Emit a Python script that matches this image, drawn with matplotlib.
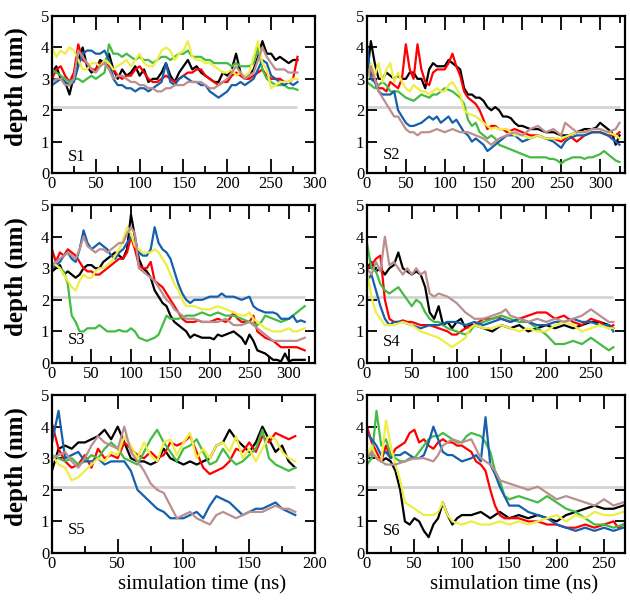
import matplotlib
matplotlib.use('Agg')
import matplotlib.pyplot as plt
from matplotlib.ticker import MultipleLocator
import numpy as np

plt.rcParams['font.family'] = ['Liberation Serif', 'DejaVu Serif']

step = 5  # ns between samples
threshold = 2.1

# ---- S1 ----
s1_black = [3.2, 3.4, 3.0, 2.9, 2.5, 3.1, 3.6, 4.0, 3.4, 3.2, 3.3, 3.6, 3.5, 3.8, 3.3, 3.0, 3.3, 3.1, 3.2, 3.4,
            3.1, 3.3, 2.9, 3.0, 3.0, 3.2, 3.5, 3.1, 2.9, 3.2, 3.4, 3.6, 3.3, 3.4, 3.2, 3.1, 3.0, 2.9, 2.9, 3.2,
            3.1, 3.3, 3.8, 3.2, 3.0, 3.1, 3.3, 3.7, 4.2, 3.8, 3.8, 3.6, 3.7, 3.6, 3.5, 3.6, 3.6]
s1_red = [3.0, 3.3, 3.4, 3.1, 2.9, 3.2, 4.1, 3.6, 3.5, 3.3, 3.3, 3.5, 3.5, 3.4, 3.3, 3.1, 3.0, 3.1, 3.1, 3.3,
          3.4, 3.2, 3.0, 2.9, 2.9, 3.0, 3.1, 3.0, 2.9, 3.0, 3.1, 3.2, 3.2, 3.3, 3.3, 3.1, 3.0, 2.9, 2.8, 2.9,
          2.9, 3.1, 3.2, 3.1, 3.0, 3.0, 3.1, 3.2, 3.3, 3.1, 3.0, 3.0, 3.0, 2.9, 2.9, 3.0, 3.7]
s1_green = [3.3, 3.2, 3.1, 3.0, 2.9, 3.0, 3.0, 2.9, 3.0, 3.1, 3.0, 3.1, 3.2, 4.1, 3.8, 3.8, 3.7, 3.8, 3.7, 3.6,
            3.7, 3.6, 3.6, 3.5, 3.6, 3.7, 3.7, 3.6, 3.7, 3.8, 3.8, 3.9, 3.7, 3.7, 3.7, 3.6, 3.6, 3.5, 3.5, 3.5,
            3.5, 3.4, 3.5, 3.4, 3.4, 3.4, 3.5, 4.0, 3.3, 3.0, 2.9, 2.8, 2.8, 2.8, 2.7, 2.7, 2.65]
s1_blue = [2.8, 2.9, 3.0, 2.9, 2.8, 2.9, 3.4, 3.8, 3.9, 3.9, 3.8, 3.8, 3.9, 3.6, 3.0, 2.8, 2.8, 2.7, 2.7, 2.6,
           2.7, 2.7, 2.6, 2.7, 2.8, 2.9, 3.5, 2.9, 2.8, 3.0, 3.1, 3.0, 2.9, 2.9, 2.8, 2.8, 2.6, 2.5, 2.4, 2.5,
           2.6, 2.8, 2.8, 2.9, 2.8, 2.9, 3.0, 3.3, 3.6, 3.5, 3.1, 3.0, 2.9, 2.8, 2.9, 2.8, 2.9]
s1_yellow = [4.0, 3.7, 3.9, 3.8, 4.0, 3.9, 3.6, 3.3, 3.3, 3.5, 3.5, 3.4, 3.6, 3.5, 3.3, 3.4, 3.5, 3.6, 3.4, 3.6,
             3.8, 3.5, 3.4, 3.4, 3.6, 3.9, 4.0, 3.9, 3.6, 3.8, 3.9, 4.2, 3.7, 3.6, 3.6, 3.5, 3.5, 3.4, 3.3, 3.2,
             3.2, 3.3, 3.1, 3.2, 3.1, 3.2, 3.7, 4.2, 3.5, 3.3, 2.7, 2.8, 2.9, 2.9, 2.9, 3.0, 3.0]
s1_brown = [2.9, 3.0, 3.0, 2.8, 2.8, 3.0, 3.9, 3.7, 3.5, 3.3, 3.2, 3.4, 3.5, 3.3, 3.0, 3.1, 3.1, 3.0, 2.9, 2.9,
            2.8, 2.8, 2.7, 2.7, 2.6, 2.6, 2.7, 2.7, 2.8, 2.8, 2.8, 2.9, 2.9, 2.9, 2.9, 2.8, 2.7, 2.7, 2.8, 2.9,
            3.0, 3.2, 3.4, 3.2, 3.0, 3.1, 3.2, 3.6, 4.0, 3.7, 3.5, 3.3, 3.3, 3.3, 3.2, 3.2, 3.2]

# ---- S2 ----
s2_black = [3.1, 4.2, 3.5, 3.0, 3.0, 3.2, 3.1, 3.0, 3.1, 3.0, 3.0, 3.2, 3.2, 3.0, 3.0, 2.7, 3.3, 3.5, 3.4, 3.4,
            3.4, 3.6, 3.5, 3.4, 3.3, 2.7, 2.5, 2.5, 2.4, 2.4, 2.3, 2.1, 2.0, 2.1, 2.0, 1.8, 1.8, 1.75, 1.6, 1.5,
            1.5, 1.45, 1.4, 1.4, 1.4, 1.35, 1.3, 1.3, 1.3, 1.25, 1.2, 1.2, 1.2, 1.25, 1.3, 1.35, 1.4, 1.4, 1.4, 1.45,
            1.6, 1.5, 1.4, 1.3, 0.9, 1.2]
s2_red = [3.1, 3.2, 3.0, 2.7, 2.7, 2.6, 2.9, 2.8, 2.7, 3.0, 4.1, 3.3, 3.0, 4.1, 3.3, 2.9, 2.8, 3.2, 3.3, 3.3,
          3.3, 3.5, 3.8, 3.4, 3.1, 2.6, 2.4, 2.3, 2.2, 2.0, 1.7, 1.4, 1.5, 1.5, 1.4, 1.4, 1.3, 1.35, 1.4, 1.35,
          1.3, 1.25, 1.2, 1.2, 1.2, 1.15, 1.1, 1.1, 1.1, 1.05, 1.0, 1.1, 1.2, 1.1, 1.0, 1.1, 1.2, 1.25, 1.3, 1.3,
          1.3, 1.25, 1.2, 1.2, 1.2, 1.3]
s2_green = [2.9, 2.8, 2.7, 2.8, 2.9, 2.8, 2.6, 2.6, 2.6, 2.5, 2.4, 2.35, 2.3, 2.4, 2.5, 2.45, 2.4, 2.5, 2.5, 2.6,
            2.7, 2.65, 2.6, 2.5, 2.4, 2.2, 1.7, 1.5, 1.6, 1.3, 1.2, 1.1, 1.2, 1.1, 0.9, 0.85, 0.8, 0.75, 0.7, 0.65,
            0.6, 0.55, 0.5, 0.5, 0.5, 0.5, 0.5, 0.45, 0.45, 0.4, 0.3, 0.4, 0.45, 0.5, 0.5, 0.5, 0.45, 0.5, 0.5, 0.55,
            0.6, 0.7, 0.6, 0.5, 0.4, 0.35]
s2_blue = [4.1, 3.0, 2.9, 2.6, 2.5, 2.5, 2.5, 2.6, 2.0, 1.8, 1.6, 1.5, 1.5, 1.55, 1.6, 1.7, 1.8, 1.7, 1.8, 1.6,
           1.7, 1.8, 1.6, 1.7, 1.5, 1.3, 1.2, 1.0, 1.1, 1.0, 0.9, 0.7, 0.8, 0.9, 1.0, 1.1, 1.2, 1.2, 1.2, 1.1,
           1.0, 1.05, 1.1, 1.15, 1.2, 1.15, 1.1, 1.05, 1.0, 0.9, 0.8, 1.0, 1.1, 1.15, 1.2, 1.2, 1.2, 1.25, 1.3, 1.3,
           1.3, 1.25, 1.2, 1.1, 1.0, 0.9]
s2_yellow = [2.9, 3.5, 3.1, 3.5, 2.9, 3.3, 3.5, 2.9, 3.2, 2.9, 2.7, 2.6, 2.8, 2.7, 2.6, 2.6, 2.5, 2.6, 2.7, 2.6,
             2.6, 2.8, 2.9, 2.7, 2.5, 2.0, 1.9, 1.85, 1.8, 1.7, 1.6, 1.5, 1.4, 1.45, 1.4, 1.4, 1.4, 1.3, 1.2, 1.2,
             1.2, 1.15, 1.1, 1.15, 1.2, 1.15, 1.1, 1.1, 1.1, 1.1, 1.1, 1.15, 1.2, 1.25, 1.3, 1.3, 1.3, 1.35, 1.4, 1.4,
             1.4, 1.35, 1.3, 1.25, 1.2, 1.1]
s2_brown = [3.1, 3.4, 3.0, 2.6, 2.4, 2.2, 2.0, 1.8, 1.8, 1.6, 1.4, 1.3, 1.3, 1.2, 1.3, 1.3, 1.3, 1.35, 1.4, 1.35,
            1.3, 1.35, 1.4, 1.35, 1.3, 1.3, 1.3, 1.25, 1.2, 1.15, 1.1, 1.0, 0.9, 1.0, 1.1, 1.15, 1.2, 1.25, 1.3, 1.25,
            1.2, 1.3, 1.4, 1.45, 1.5, 1.4, 1.3, 1.35, 1.4, 1.3, 1.2, 1.6, 1.5, 1.4, 1.3, 1.3, 1.3, 1.35, 1.4, 1.4,
            1.4, 1.35, 1.3, 1.35, 1.4, 1.6]

# ---- S3 ----
s3_black = [2.9, 3.0, 3.1, 2.8, 2.9, 2.8, 2.7, 2.8, 3.0, 3.1, 3.1, 3.0, 3.0, 3.2, 3.3, 3.4, 3.5, 3.4, 3.3, 3.6,
            4.7, 4.0, 3.3, 3.0, 2.9, 2.7, 2.3, 2.1, 1.9, 1.8, 1.5, 1.3, 1.2, 1.1, 1.0, 0.8, 0.9, 0.85, 0.8, 0.8,
            0.8, 0.75, 0.9, 0.85, 0.9, 0.95, 1.0, 0.9, 0.8, 0.6, 0.9, 0.7, 0.4, 0.35, 0.3, 0.2, 0.1, 0.1, 0.05, 0.3,
            0.05, 0.1, 0.1, 0.1, 0.1]
s3_red = [3.6, 3.2, 3.5, 3.4, 3.6, 3.5, 3.4, 3.2, 3.0, 2.9, 2.9, 2.8, 2.8, 2.9, 3.0, 3.1, 3.2, 3.3, 3.3, 3.5,
          4.0, 3.6, 3.1, 3.0, 3.0, 3.2, 2.6, 2.5, 2.4, 2.2, 2.0, 1.8, 1.6, 1.4, 1.3, 1.3, 1.3, 1.35, 1.3, 1.3,
          1.3, 1.35, 1.4, 1.35, 1.3, 1.4, 1.6, 1.4, 1.3, 1.3, 1.3, 1.5, 1.0, 0.9, 0.8, 0.75, 0.7, 0.6, 0.5, 0.5,
          0.5, 0.5, 0.5, 0.45, 0.4]
s3_green = [3.0, 3.1, 3.0, 2.9, 2.5, 1.5, 1.3, 1.0, 1.0, 1.1, 1.1, 1.1, 1.2, 1.1, 1.0, 1.0, 1.0, 1.05, 1.0, 1.0,
            1.1, 1.0, 0.8, 0.75, 0.7, 0.75, 0.8, 0.9, 1.2, 1.5, 1.4, 1.4, 1.4, 1.45, 1.5, 1.5, 1.5, 1.55, 1.6, 1.55,
            1.5, 1.55, 1.6, 1.55, 1.5, 1.5, 1.5, 1.45, 1.4, 1.35, 1.3, 1.25, 1.2, 1.3, 1.5, 1.45, 1.4, 1.35, 1.3, 1.35,
            1.4, 1.5, 1.6, 1.7, 1.8]
s3_blue = [3.0, 3.1, 3.2, 3.4, 3.5, 3.3, 3.2, 3.6, 4.2, 3.8, 3.6, 3.7, 3.8, 3.7, 3.6, 3.4, 3.3, 3.5, 3.6, 3.8,
           4.0, 3.8, 3.5, 3.4, 3.4, 3.6, 4.3, 3.8, 3.6, 3.5, 3.3, 2.9, 2.5, 2.2, 2.0, 1.9, 2.0, 2.0, 2.0, 2.05,
           2.1, 2.1, 2.1, 2.2, 2.1, 2.1, 2.1, 2.05, 2.0, 2.05, 2.1, 1.8, 1.7, 1.65, 1.6, 1.6, 1.6, 1.55, 1.4, 1.4,
           1.4, 1.5, 1.3, 1.35, 1.3]
s3_yellow = [3.2, 3.1, 3.0, 2.8, 2.6, 2.4, 2.3, 2.6, 2.8, 2.7, 2.7, 2.9, 3.0, 3.0, 3.1, 3.2, 3.4, 3.6, 3.9, 4.3,
             4.1, 3.7, 3.6, 3.5, 3.5, 3.5, 3.6, 3.5, 3.3, 3.1, 2.8, 2.5, 2.3, 2.0, 1.8, 1.8, 1.8, 1.75, 1.7, 1.7,
             1.7, 1.75, 1.8, 1.75, 1.7, 1.65, 1.6, 1.55, 1.5, 1.5, 1.6, 1.4, 1.3, 1.2, 1.1, 1.05, 1.0, 1.0, 1.0, 1.05,
             1.1, 1.0, 1.0, 1.05, 1.1]
s3_brown = [3.1, 3.2, 3.3, 3.4, 3.5, 3.4, 3.3, 3.6, 4.0, 3.7, 3.6, 3.5, 3.6, 3.6, 3.5, 3.6, 3.7, 3.8, 3.8, 4.1,
            4.3, 4.1, 3.0, 2.9, 2.8, 2.7, 2.6, 2.4, 2.2, 2.0, 1.9, 1.7, 1.6, 1.5, 1.4, 1.4, 1.4, 1.35, 1.3, 1.3,
            1.3, 1.3, 1.3, 1.35, 1.4, 1.3, 1.2, 1.2, 1.2, 1.25, 1.3, 1.2, 1.1, 1.0, 0.9, 0.8, 0.7, 0.7, 0.7, 0.7,
            0.7, 0.7, 0.7, 0.75, 0.8]

# ---- S4 ----
s4_black = [3.0, 3.2, 2.9, 3.0, 2.8, 3.0, 3.1, 3.5, 3.0, 2.9, 2.8, 2.9, 2.8, 2.4, 1.6, 1.4, 1.8, 1.2, 1.3, 1.1,
            1.3, 1.4, 1.1, 1.2, 1.2, 1.15, 1.1, 1.05, 1.0, 1.1, 1.2, 1.15, 1.1, 1.15, 1.2, 1.1, 1.0, 1.05, 1.1, 1.15,
            1.2, 1.15, 1.1, 1.15, 1.2, 1.15, 1.1, 1.15, 1.2, 1.25, 1.3, 1.3, 1.3, 1.25, 1.2, 1.1]
s4_red = [3.0, 3.1, 3.3, 3.4, 2.0, 1.4, 1.3, 1.3, 1.35, 1.3, 1.3, 1.25, 1.2, 1.2, 1.2, 1.15, 1.1, 1.05, 1.0, 0.9,
          0.9, 1.0, 1.1, 1.15, 1.2, 1.3, 1.4, 1.4, 1.4, 1.45, 1.4, 1.35, 1.3, 1.35, 1.4, 1.45, 1.5, 1.55, 1.6, 1.6,
          1.6, 1.5, 1.4, 1.45, 1.5, 1.4, 1.3, 1.25, 1.2, 1.3, 1.4, 1.35, 1.3, 1.2, 1.1, 1.2]
s4_green = [3.8, 3.0, 2.9, 2.5, 2.3, 2.2, 2.3, 2.4, 2.2, 2.0, 1.8, 2.0, 1.9, 1.6, 1.4, 1.3, 1.3, 1.2, 1.1, 1.05,
            1.0, 0.95, 0.9, 1.0, 1.2, 1.25, 1.3, 1.35, 1.4, 1.45, 1.5, 1.45, 1.4, 1.35, 1.3, 1.3, 1.3, 1.2, 1.1, 1.0,
            0.9, 0.75, 0.6, 0.6, 0.6, 0.65, 0.7, 0.65, 0.6, 0.7, 0.8, 0.7, 0.6, 0.5, 0.4, 0.5]
s4_blue = [2.6, 2.8, 2.3, 1.8, 1.4, 1.2, 1.3, 1.3, 1.3, 1.25, 1.2, 1.15, 1.1, 1.15, 1.2, 1.2, 1.2, 1.25, 1.3, 1.3,
           1.3, 1.25, 1.2, 1.25, 1.3, 1.25, 1.2, 1.25, 1.3, 1.35, 1.4, 1.35, 1.3, 1.35, 1.4, 1.35, 1.3, 1.25, 1.2, 1.2,
           1.2, 1.25, 1.3, 1.3, 1.3, 1.35, 1.4, 1.35, 1.3, 1.3, 1.3, 1.25, 1.2, 1.2, 1.2, 1.0]
s4_yellow = [2.9, 2.1, 1.6, 1.4, 1.2, 1.2, 1.2, 1.25, 1.3, 1.25, 1.2, 1.1, 1.0, 0.95, 0.9, 0.85, 0.8, 0.7, 0.6, 0.5,
             0.6, 0.7, 0.8, 1.1, 1.2, 1.15, 1.1, 1.1, 1.1, 1.15, 1.2, 1.15, 1.1, 1.05, 1.0, 1.05, 1.1, 1.05, 1.0, 1.0,
             1.0, 1.1, 1.2, 1.25, 1.3, 1.25, 1.2, 1.1, 1.0, 1.05, 1.1, 1.15, 1.2, 1.15, 1.1, 1.1]
s4_brown = [3.0, 2.8, 3.2, 2.9, 4.0, 3.1, 3.2, 3.0, 2.8, 3.0, 2.8, 3.0, 2.8, 2.9, 2.2, 2.1, 2.2, 2.15, 2.1, 2.0,
            1.9, 1.75, 1.6, 1.5, 1.4, 1.4, 1.4, 1.45, 1.5, 1.55, 1.6, 1.7, 1.5, 1.45, 1.4, 1.35, 1.3, 1.35, 1.4, 1.35,
            1.3, 1.35, 1.4, 1.35, 1.3, 1.35, 1.4, 1.45, 1.5, 1.6, 1.7, 1.6, 1.5, 1.4, 1.3, 1.3]

# ---- S5 ----
s5_black = [2.6, 3.3, 3.4, 3.3, 3.5, 3.5, 3.6, 3.7, 3.9, 3.6, 4.0, 3.5, 3.0, 2.9, 2.9, 2.8, 2.9, 3.3, 3.0, 2.9,
            2.8, 2.9, 2.8, 2.9, 3.0, 3.4, 3.5, 3.9, 3.6, 3.4, 3.2, 3.5, 4.0, 3.6, 3.2, 3.4, 2.9, 2.7]
s5_red = [4.1, 3.3, 2.9, 2.7, 2.8, 3.1, 2.7, 3.3, 3.0, 3.1, 3.0, 3.5, 3.3, 3.1, 3.0, 3.2, 3.0, 3.1, 3.5, 3.4,
          3.5, 3.7, 3.2, 2.7, 2.5, 2.6, 2.7, 2.9, 3.3, 3.2, 3.5, 3.2, 3.7, 3.5, 3.8, 3.7, 3.6, 3.7]
s5_green = [3.1, 3.0, 2.9, 3.0, 2.8, 2.9, 3.1, 3.0, 3.3, 3.5, 3.3, 3.0, 2.9, 2.8, 3.2, 3.6, 3.9, 3.5, 3.2, 2.9,
            3.3, 3.4, 3.6, 3.2, 2.8, 2.9, 3.3, 3.0, 2.8, 2.9, 3.1, 3.3, 3.9, 3.0, 2.8, 2.7, 2.6, 2.7]
s5_blue = [3.5, 4.5, 3.0, 3.1, 3.2, 2.9, 2.9, 3.0, 2.8, 2.9, 2.9, 2.9, 2.6, 2.0, 1.8, 1.6, 1.4, 1.3, 1.1, 1.1,
           1.1, 1.2, 1.3, 1.1, 1.5, 1.8, 1.7, 1.6, 1.4, 1.2, 1.3, 1.4, 1.4, 1.5, 1.6, 1.4, 1.3, 1.2]
s5_yellow = [3.1, 2.8, 2.7, 2.3, 2.4, 2.6, 2.8, 3.0, 2.9, 3.2, 3.1, 3.7, 3.4, 3.0, 3.5, 3.1, 2.9, 3.5, 3.6, 3.1,
             3.5, 3.8, 3.0, 3.3, 3.0, 3.4, 3.5, 3.2, 3.7, 3.0, 3.3, 2.9, 3.3, 3.7, 3.6, 3.2, 3.0, 2.9]
s5_brown = [3.0, 3.1, 3.2, 2.9, 2.7, 3.0, 3.4, 3.7, 3.5, 3.4, 3.3, 4.0, 3.2, 2.9, 2.6, 2.2, 2.0, 1.9, 1.5, 1.1,
            1.2, 1.3, 1.1, 1.0, 0.9, 1.2, 1.3, 1.2, 1.1, 1.2, 1.3, 1.3, 1.3, 1.4, 1.5, 1.4, 1.4, 1.3]

# ---- S6 ----
s6_black = [3.0, 3.2, 3.0, 2.9, 3.0, 2.9, 2.6, 2.0, 1.0, 0.9, 1.1, 1.0, 0.7, 0.5, 0.9, 1.1, 1.6, 1.2, 0.9, 1.1,
            1.2, 1.2, 1.2, 1.25, 1.3, 1.2, 1.1, 1.2, 1.3, 1.2, 1.1, 1.15, 1.2, 1.15, 1.1, 1.15, 1.2, 1.15, 1.1, 1.05,
            1.0, 1.1, 1.2, 1.25, 1.3, 1.35, 1.4, 1.45, 1.5, 1.45, 1.4, 1.4, 1.4, 1.45, 1.5]
s6_red = [4.0, 3.5, 3.2, 2.9, 3.4, 3.0, 3.3, 3.4, 3.5, 3.8, 3.9, 3.5, 3.6, 3.4, 3.3, 3.5, 3.6, 3.5, 3.5, 3.4,
          3.4, 3.3, 3.2, 2.9, 2.8, 2.6, 2.0, 1.5, 1.2, 1.1, 1.1, 1.1, 1.1, 1.05, 1.0, 1.0, 1.0, 0.95, 0.9, 0.9,
          0.9, 0.85, 0.8, 0.8, 0.8, 0.85, 0.9, 0.85, 0.8, 0.85, 0.9, 0.95, 1.0, 0.8, 0.9]
s6_green = [2.8, 3.0, 4.5, 3.4, 3.6, 3.1, 3.0, 2.9, 2.9, 3.0, 3.0, 3.2, 3.4, 3.6, 3.7, 3.7, 3.8, 3.7, 3.6, 3.5,
            3.5, 3.7, 3.8, 3.75, 3.7, 3.5, 3.2, 2.6, 2.3, 1.8, 1.7, 1.75, 1.8, 1.75, 1.7, 1.65, 1.6, 1.7, 1.8, 1.7,
            1.6, 1.5, 1.4, 1.35, 1.3, 1.2, 1.1, 1.0, 0.9, 0.9, 0.9, 0.85, 0.8, 0.85, 0.9]
s6_blue = [3.8, 3.6, 3.4, 3.1, 3.2, 3.0, 3.1, 3.1, 3.2, 3.1, 3.0, 3.0, 3.1, 3.5, 4.0, 3.6, 3.2, 3.1, 3.1, 3.0,
           2.9, 2.95, 3.0, 3.1, 2.9, 4.3, 2.8, 2.5, 2.1, 1.8, 1.5, 1.5, 1.5, 1.4, 1.3, 1.25, 1.2, 1.15, 1.1, 1.0,
           0.9, 0.85, 0.8, 0.75, 0.7, 0.75, 0.8, 0.75, 0.7, 0.75, 0.8, 0.75, 0.7, 0.75, 0.8]
s6_yellow = [3.1, 3.4, 3.0, 2.9, 4.2, 3.4, 2.8, 2.3, 1.6, 1.5, 1.4, 1.3, 1.2, 1.2, 1.2, 1.3, 1.6, 1.2, 1.0, 0.95,
             0.9, 0.95, 1.0, 0.95, 0.9, 0.9, 0.9, 0.95, 1.0, 0.95, 0.9, 0.95, 1.0, 0.95, 0.9, 0.95, 1.0, 1.05, 1.1, 1.15,
             1.2, 1.1, 1.0, 1.1, 1.2, 1.15, 1.1, 1.2, 1.3, 1.25, 1.2, 1.2, 1.2, 1.25, 1.3]
s6_brown = [3.0, 3.2, 3.0, 2.9, 2.8, 2.8, 2.8, 2.85, 2.9, 2.95, 3.0, 3.0, 3.0, 2.95, 2.9, 3.1, 3.4, 3.5, 3.6, 3.55,
            3.5, 3.55, 3.6, 3.3, 3.0, 2.9, 2.8, 2.6, 2.3, 2.25, 2.2, 2.15, 2.1, 2.05, 2.0, 2.05, 2.1, 2.0, 1.9, 1.8,
            1.7, 1.75, 1.8, 1.75, 1.7, 1.65, 1.6, 1.55, 1.5, 1.6, 1.7, 1.6, 1.5, 1.55, 1.6]

colors = ['black', '#ff0000', '#44bb44', '#1560ad', '#eeee44', '#bc8f8f']

panels = [
    ('S1', [s1_black, s1_red, s1_green, s1_blue, s1_yellow, s1_brown], 300, 0.10),
    ('S2', [s2_black, s2_red, s2_green, s2_blue, s2_yellow, s2_brown], 332, 0.115),
    ('S3', [s3_black, s3_red, s3_green, s3_blue, s3_yellow, s3_brown], 333, 0.145),
    ('S4', [s4_black, s4_red, s4_green, s4_blue, s4_yellow, s4_brown], 288, 0.13),
    ('S5', [s5_black, s5_red, s5_green, s5_blue, s5_yellow, s5_brown], 200, 0.145),
    ('S6', [s6_black, s6_red, s6_green, s6_blue, s6_yellow, s6_brown], 272, 0.14),
]

# axes boxes [left, bottom, width, height] in figure fraction
boxes = [
    [0.0825, 0.714, 0.4175, 0.2595], [0.5825, 0.714, 0.4095, 0.2595],
    [0.0825, 0.400, 0.4175, 0.261], [0.5825, 0.400, 0.4095, 0.261],
    [0.0825, 0.086, 0.4175, 0.261], [0.5825, 0.086, 0.4095, 0.261],
]

fig = plt.figure(figsize=(6.3, 6.05), dpi=100)

for i, (name, series, xmax, ly) in enumerate(panels):
    ax = fig.add_axes(boxes[i])
    t_end = 0
    for vals, c in zip(series, colors):
        t = np.arange(len(vals)) * step
        ax.plot(t, vals, color=c, lw=1.6, zorder=2)
        t_end = max(t_end, t[-1])
    ax.hlines(threshold, 0, t_end, color='#d4d4d4', lw=2, zorder=1.5)

    ax.set_xlim(0, xmax)
    ax.set_ylim(0, 5)
    ax.xaxis.set_major_locator(MultipleLocator(50))
    ax.xaxis.set_minor_locator(MultipleLocator(25))
    ax.yaxis.set_major_locator(MultipleLocator(1))
    ax.tick_params(which='both', direction='in', top=True, right=True, labelsize=12, pad=2)
    ax.tick_params(axis='x', which='major', length=10, width=1.3)
    ax.tick_params(axis='x', which='minor', length=5, width=1.3)
    ax.tick_params(axis='y', which='major', length=7, width=1.3)
    for sp in ax.spines.values():
        sp.set_linewidth(1.6)

    ax.text(0.06, ly, name, transform=ax.transAxes, fontsize=12, va='center')

    if i % 2 == 0:
        ax.set_ylabel('depth (nm)', fontsize=18, fontweight='bold')
        ax.yaxis.set_label_coords(-0.09, 0.55)
    if i >= 4:
        ax.set_xlabel('simulation time (ns)', fontsize=15)
        ax.xaxis.set_label_coords(0.57, -0.14)

fig.savefig('out.png', dpi=100)
